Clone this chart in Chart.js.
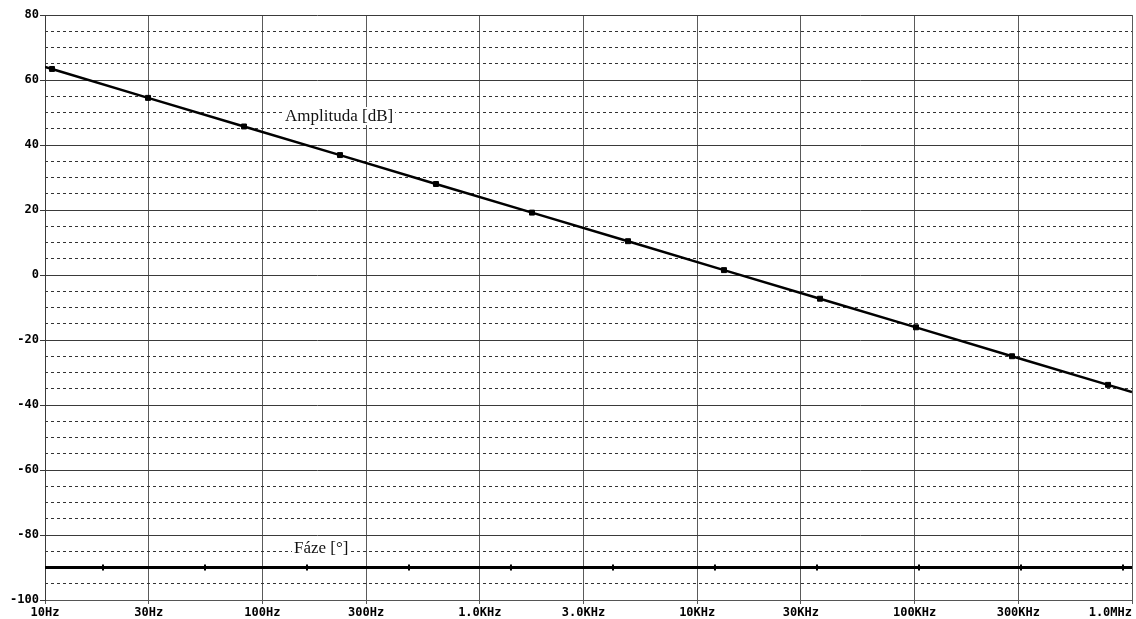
<!DOCTYPE html>
<html>
<head>
<meta charset="utf-8">
<title>Bode</title>
<script src="https://cdn.jsdelivr.net/npm/chart.js@4"></script>
<style>
  body { margin: 0; background: #fff; }
  canvas { display: block; }
</style>
</head>
<body>
<canvas id="bode" width="1136" height="619"></canvas>
<script>
// frequency axis ticks
var freqTicks = [10, 30, 100, 300, 1000, 3000, 10000, 30000, 100000, 300000, 1000000];
var freqLabels = ['10Hz', '30Hz', '100Hz', '300Hz', '1.0KHz', '3.0KHz', '10KHz', '30KHz', '100KHz', '300KHz', '1.0MHz'];

// amplitude trace [dB] (first and last point are the trace ends, the rest carry markers)
var ampFreq = [10, 10.77, 29.78, 82.3, 227.5, 628.7, 1738, 4805, 13280, 36720, 101500, 280600, 775600, 1000000];
var ampDb = [64.0, 63.4, 54.5, 45.7, 36.9, 28.0, 19.2, 10.4, 1.5, -7.3, -16.1, -25.0, -33.8, -36.0];

// phase trace [deg]
var phaseFreq = [10, 18.48, 54.45, 160.4, 472.4, 1391, 4099, 12070, 35570, 104800, 308700, 909000, 1000000];
var phaseDeg = [-90, -90, -90, -90, -90, -90, -90, -90, -90, -90, -90, -90, -90];

var yMin = -100, yMax = 80;

function toPoints(xs, ys) {
    var pts = [];
    for (var i = 0; i < xs.length; i++) pts.push({ x: xs[i], y: ys[i] });
    return pts;
}

// markers only on inner points
function markRadius(n, r) {
    var out = [];
    for (var i = 0; i < n; i++) out.push(i == 0 || i == n - 1 ? 0 : r);
    return out;
}

var tickFont = 'bold 12px "DejaVu Sans Mono", monospace';

// x tick labels, last one pushed inside the frame
var xLabelPlugin = {
    id: 'xLabels',
    afterDraw: function(chart) {
        var ctx = chart.ctx;
        var xs = chart.scales.x;
        var area = chart.chartArea;
        ctx.save();
        ctx.font = tickFont;
        ctx.fillStyle = '#000';
        ctx.textBaseline = 'middle';
        for (var i = 0; i < freqTicks.length; i++) {
            var px = xs.getPixelForValue(freqTicks[i]);
            var w = ctx.measureText(freqLabels[i]).width;
            if (px + w / 2 > area.right) {
                ctx.textAlign = 'right';
                px = area.right;
            } else {
                ctx.textAlign = 'center';
            }
            ctx.fillText(freqLabels[i], px, area.bottom + 13);
        }
        ctx.restore();
    }
};

// trace names with white box behind
var traceLabelPlugin = {
    id: 'traceLabels',
    beforeDatasetsDraw: function(chart) {
        var ctx = chart.ctx;
        var items = [
            { text: 'Amplituda [dB]', x: 285, y: 121 },
            { text: 'Fáze [°]', x: 294, y: 553 }
        ];
        ctx.save();
        ctx.font = '17px "Liberation Serif", serif';
        ctx.textAlign = 'left';
        ctx.textBaseline = 'alphabetic';
        items.forEach(function(it) {
            var w = ctx.measureText(it.text).width;
            ctx.fillStyle = '#fff';
            ctx.fillRect(it.x - 2, it.y - 14, w + 4, 18);
            ctx.fillStyle = '#111';
            ctx.fillText(it.text, it.x, it.y);
        });
        ctx.restore();
    }
};

new Chart(document.getElementById('bode'), {
    type: 'line',
    data: {
        datasets: [{
            label: 'Amplituda [dB]',
            data: toPoints(ampFreq, ampDb),
            borderColor: '#000',
            borderWidth: 2.5,
            pointStyle: 'rect',
            pointRadius: markRadius(ampFreq.length, 3.5),
            pointBackgroundColor: '#000',
            pointBorderColor: '#000',
            pointBorderWidth: 1,
            tension: 0
        }, {
            label: 'Fáze [°]',
            data: toPoints(phaseFreq, phaseDeg),
            borderColor: '#000',
            borderWidth: 3,
            pointStyle: 'line',
            rotation: 90,
            pointRadius: markRadius(phaseFreq.length, 3),
            pointBorderColor: '#000',
            pointBorderWidth: 2,
            tension: 0
        }]
    },
    options: {
        responsive: false,
        devicePixelRatio: 1,
        animation: false,
        layout: { padding: { top: 15, right: 4, left: 0, bottom: 0 } },
        plugins: {
            legend: { display: false },
            tooltip: { enabled: false }
        },
        scales: {
            x: {
                type: 'logarithmic',
                min: 10,
                max: 1000000,
                afterBuildTicks: function(axis) {
                    axis.ticks = freqTicks.map(function(v) { return { value: v }; });
                },
                afterFit: function(axis) { axis.height = 19; },
                ticks: { display: false },
                grid: { color: '#5a5a5a', lineWidth: 1, drawTicks: true, tickLength: 4 },
                border: { color: '#555', width: 1 }
            },
            yMinor: {
                position: 'left',
                min: yMin,
                max: yMax,
                afterBuildTicks: function(axis) {
                    var t = [];
                    for (var v = yMin; v <= yMax; v += 5) t.push({ value: v });
                    axis.ticks = t;
                },
                afterFit: function(axis) { axis.width = 0; },
                ticks: { display: false },
                grid: {
                    drawTicks: false,
                    color: function(c) {
                        return c.tick && c.tick.value % 20 != 0 ? '#333' : 'rgba(0,0,0,0)';
                    },
                    lineWidth: 1
                },
                border: { display: false, dash: [3, 3] }
            },
            y: {
                position: 'left',
                min: yMin,
                max: yMax,
                ticks: {
                    stepSize: 20,
                    color: '#000',
                    font: { family: '"DejaVu Sans Mono", monospace', size: 12, weight: 'bold' },
                    padding: 1
                },
                afterFit: function(axis) { axis.width = 45; },
                grid: { color: '#3a3a3a', lineWidth: 1, drawTicks: true, tickLength: 5 },
                border: { color: '#3a3a3a', width: 1 }
            }
        }
    },
    plugins: [traceLabelPlugin, xLabelPlugin]
});
</script>
</body>
</html>
